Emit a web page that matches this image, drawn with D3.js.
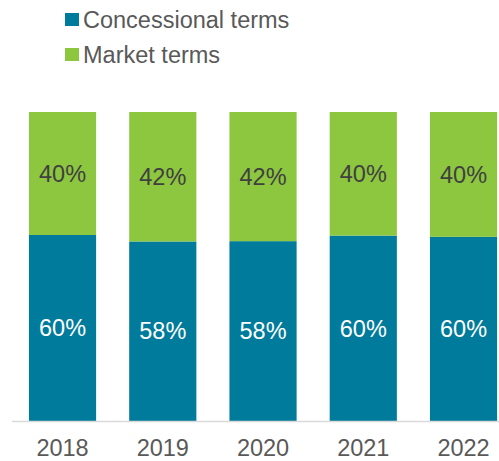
<!DOCTYPE html>
<html>
<head>
<meta charset="utf-8">
<script src="https://cdn.jsdelivr.net/npm/d3@7"></script>
<style>
  body { margin: 0; background: #fff; }
  svg text { font-family: "Liberation Sans", Arial, sans-serif; }
</style>
</head>
<body>
<div id="chart"></div>
<script>
// data
var years = ["2018", "2019", "2020", "2021", "2022"];
var concessional = [60.2, 58.1, 58.2, 60.0, 59.6];
var market = [39.8, 41.9, 41.8, 40.0, 40.4];
var seriesNames = ["Concessional terms", "Market terms"];
var seriesColors = ["#007B9B", "#8DC63F"];

var width = 499, height = 461;
var fs = 23.5;

var svg = d3.select("#chart").append("svg")
    .attr("width", width)
    .attr("height", height);

var x = d3.scaleBand()
    .domain(years)
    .range([12.4, 513.65])
    .paddingInner(0.33)
    .paddingOuter(0.165);

var y = d3.scaleLinear()
    .domain([0, 100])
    .range([421, 112]);

var rows = years.map(function (yr, i) {
    return { year: yr, concessional: concessional[i], market: market[i] };
});

var stack = d3.stack().keys(["concessional", "market"]);
var layers = stack(rows);

var g = svg.selectAll("g.layer")
    .data(layers)
    .enter().append("g")
    .attr("class", "layer")
    .attr("fill", function (d, i) { return seriesColors[i]; });

g.selectAll("rect")
    .data(function (d) { return d; })
    .enter().append("rect")
    .attr("x", function (d) { return x(d.data.year); })
    .attr("width", x.bandwidth())
    .attr("y", function (d) { return y(d[1]); })
    .attr("height", function (d) { return y(d[0]) - y(d[1]); });

// value labels
layers.forEach(function (layer, li) {
    svg.selectAll("text.lab" + li)
        .data(layer)
        .enter().append("text")
        .attr("class", "lab" + li)
        .attr("x", function (d) { return x(d.data.year) + x.bandwidth() / 2; })
        .attr("y", function (d) { return (y(d[0]) + y(d[1])) / 2; })
        .attr("dy", "0.35em")
        .attr("text-anchor", "middle")
        .attr("font-size", fs)
        .attr("fill", li === 0 ? "#ffffff" : "#404040")
        .text(function (d) { return Math.round(d[1] - d[0]) + "%"; });
});

// baseline
svg.append("line")
    .attr("x1", 12).attr("x2", width)
    .attr("y1", 421.5).attr("y2", 421.5)
    .attr("stroke", "#d9d9d9")
    .attr("stroke-width", 1.5);

// x axis labels - kept a touch higher so they fit inside the frame
var xAxis = d3.axisBottom(x).tickSize(0).tickPadding(0);
var ax = svg.append("g")
    .attr("transform", "translate(0,439.5)")
    .call(xAxis);
ax.select(".domain").remove();
ax.selectAll("text")
    .attr("dy", "0.71em")
    .attr("font-size", fs)
    .attr("font-family", "Liberation Sans, Arial, sans-serif")
    .attr("fill", "#595959");

// legend
var leg = svg.selectAll("g.leg")
    .data(seriesNames)
    .enter().append("g")
    .attr("class", "leg")
    .attr("transform", function (d, i) { return "translate(65," + (13 + i * 35) + ")"; });

leg.append("rect")
    .attr("width", 14).attr("height", 13)
    .attr("fill", function (d, i) { return seriesColors[i]; });

leg.append("text")
    .attr("x", 18)
    .attr("y", 15)
    .attr("font-size", fs)
    .attr("fill", "#595959")
    .text(function (d) { return d; });
</script>
</body>
</html>
